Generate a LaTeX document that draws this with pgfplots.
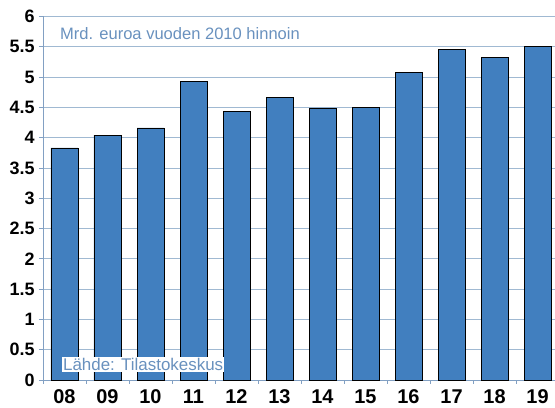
\documentclass[border=0pt]{standalone}
\usepackage{pgfplots}
\pgfplotsset{compat=1.18}
\usepackage{fontspec}
\setmainfont{Liberation Sans}
\definecolor{barblue}{RGB}{65,127,191}
\definecolor{gridc}{RGB}{160,185,210}
\definecolor{axc}{RGB}{130,160,195}
\definecolor{txtc}{RGB}{105,145,190}
\begin{document}
\begin{tikzpicture}
\begin{axis}[
  name=ax,
  scale only axis,
  width=512bp, height=363.5bp,
  xmin=-0.5, xmax=11.407,
  ymin=0, ymax=6,
  ytick={0,0.5,...,6},
  yticklabels={0,0.5,1,1.5,2,2.5,3,3.5,4,4.5,5,5.5,6},
  xtick={0,...,11},
  xticklabels={08,09,10,11,12,13,14,15,16,17,18,19},
  minor xtick={-0.5,0.5,...,11.5},
  major x tick style={draw=none},
  minor x tick style={draw=axc, line width=0.8pt},
  minor tick length=4bp,
  major tick length=4bp,
  tick align=outside,
  ytick style={draw=axc, line width=0.8pt},
  axis x line*=bottom,
  axis y line*=left,
  axis line style={draw=axc, line width=0.8pt, -},
  ymajorgrids,
  grid style={draw=gridc, line width=0.8pt},
  /pgf/number format/assume math mode=true,
  yticklabel style={font=\fontsize{18}{18}\selectfont\bfseries, xshift=-1bp},
  xticklabel style={font=\fontsize{20}{20}\selectfont\bfseries, yshift=-2bp},
  ybar, bar width=27bp, bar shift=0pt,
  clip=false,
]
\addplot[fill=barblue, draw=black, line width=0.9pt] coordinates {
(0,3.83) (1,4.04) (2,4.16) (3,4.93) (4,4.43) (5,4.66)
(6,4.49) (7,4.50) (8,5.08) (9,5.45) (10,5.32) (11,5.50)};
\node[anchor=base west, inner sep=0pt, text=txtc, font=\fontsize{16.6}{16.6}\selectfont] at (axis cs:-0.105,5.62) {Mrd. euroa vuoden 2010 hinnoin};
\node[anchor=base west, inner sep=1bp, fill=white, text=txtc, font=\fontsize{17}{17}\selectfont] at (axis cs:-0.06,0.154) {Lähde: Tilastokeskus};
\end{axis}
\pgfresetboundingbox
\path ([xshift=-43bp,yshift=-28bp]ax.south west) rectangle ([yshift=16.5bp]ax.north east);
\end{tikzpicture}
\end{document}
